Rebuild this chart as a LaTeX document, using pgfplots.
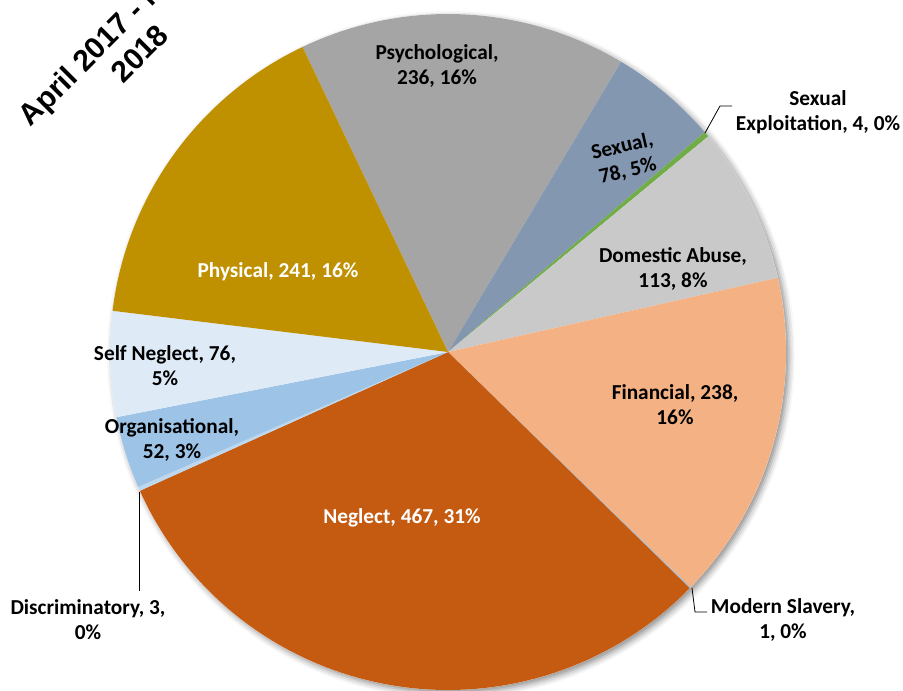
\documentclass[border=0pt]{standalone}
\usepackage{fontspec}
\setmainfont{Carlito}
\newfontfamily\titlefont{Liberation Sans}[BoldFont={Liberation Sans Bold}]
\usepackage{pgfplots}
\usepackage{pgfplotstable}
\pgfplotsset{compat=1.18}
\usetikzlibrary{shadows.blur}

\definecolor{cPsy}{HTML}{A5A5A5}
\definecolor{cSex}{HTML}{8497B0}
\definecolor{cSexExp}{HTML}{70AD47}
\definecolor{cDom}{HTML}{C9C9C9}
\definecolor{cFin}{HTML}{F4B183}
\definecolor{cMod}{HTML}{ADB9CA}
\definecolor{cNeg}{HTML}{C55A11}
\definecolor{cDis}{HTML}{BDD7EE}
\definecolor{cOrg}{HTML}{9DC3E6}
\definecolor{cSelf}{HTML}{DEEBF7}
\definecolor{cPhy}{HTML}{BF9000}

\pgfplotstableread[col sep=comma]{
category,value,colour
Psychological,236,cPsy
Sexual,78,cSex
Sexual Exploitation,4,cSexExp
Domestic Abuse,113,cDom
Financial,238,cFin
Modern Slavery,1,cMod
Neglect,467,cNeg
Discriminatory,3,cDis
Organisational,52,cOrg
Self Neglect,76,cSelf
Physical,241,cPhy
}\piedata

\tikzset{lbl/.style={font=\bfseries\fontsize{21.3}{25}\selectfont, align=center, inner sep=0pt, text=black}}

\begin{document}
\begin{tikzpicture}
\useasboundingbox (0,0) rectangle (903pt,691pt);
\pgfplotstablegetrowsof{\piedata}
\pgfmathtruncatemacro{\lastrow}{\pgfplotsretval-1}
\def\total{0}
\pgfplotsforeachungrouped \i in {0,...,\lastrow}{%
  \pgfplotstablegetelem{\i}{value}\of\piedata
  \pgfmathsetmacro\total{\total+\pgfplotsretval}}
\def\cx{448}\def\cy{339}\def\R{338}\def\startang{115.5}
\begin{axis}[width=903pt,height=691pt,scale only axis,hide axis,
  xmin=0,xmax=903,ymin=0,ymax=691,clip=false]
  % shadow
  \fill[white, blur shadow={shadow xshift=3pt, shadow yshift=-3pt, shadow blur radius=6pt, shadow opacity=45}]
     (axis cs:448,339) circle[radius=338pt];
  % slices
  \def\cum{0}
  \pgfplotsforeachungrouped \i in {0,...,\lastrow}{%
    \pgfplotstablegetelem{\i}{value}\of\piedata \let\sv\pgfplotsretval
    \pgfplotstablegetelem{\i}{colour}\of\piedata \let\scol\pgfplotsretval
    \pgfmathsetmacro\sa{\startang-360*(\cum/\total)}
    \pgfmathsetmacro\cum{\cum+\sv}
    \pgfmathsetmacro\sb{\startang-360*(\cum/\total)}
    \pgfmathsetmacro\px{\cx+\R*cos(\sa)}
    \pgfmathsetmacro\py{\cy+\R*sin(\sa)}
    \edef\temp{\noexpand\fill[\scol] (axis cs:\cx,\cy) -- (axis cs:\px,\py)
       arc[start angle=\sa, end angle=\sb, radius=\R pt] -- cycle;}%
    \temp
  }
  % leader lines
  \draw[black, line width=0.8pt] (axis cs:705,558) -- (axis cs:720,585) -- (axis cs:732,585);
  \draw[black, line width=0.8pt] (axis cs:692,103) -- (axis cs:695,79) -- (axis cs:707,79);
  \draw[black, line width=0.8pt] (axis cs:139,199) -- (axis cs:139,100);
  % labels
  \node[lbl] at (axis cs:437,625) {Psychological,\\236, 16\%};
  \node[lbl, rotate=13] at (axis cs:625,532) {Sexual,\\78, 5\%};
  \node[lbl] at (axis cs:818,579) {Sexual\\Exploitation, 4, 0\%};
  \node[lbl] at (axis cs:673,422) {Domestic Abuse,\\113, 8\%};
  \node[lbl] at (axis cs:675,286) {Financial, 238,\\16\%};
  \node[lbl] at (axis cs:783,71) {Modern Slavery,\\1, 0\%};
  \node[lbl, text=white] at (axis cs:402,173) {Neglect, 467, 31\%};
  \node[lbl] at (axis cs:88,71) {Discriminatory, 3,\\0\%};
  \node[lbl] at (axis cs:172,251) {Organisational,\\52, 3\%};
  \node[lbl] at (axis cs:165,325) {Self Neglect, 76,\\5\%};
  \node[lbl, text=white] at (axis cs:278,419) {Physical, 241, 16\%};
  % title
  \node[rotate=45, align=center, inner sep=0pt, font=\titlefont\bfseries\fontsize{30}{35}\selectfont]
     at (axis cs:127,650) {April 2017 - March\\2018};
\end{axis}
\end{tikzpicture}
\end{document}
